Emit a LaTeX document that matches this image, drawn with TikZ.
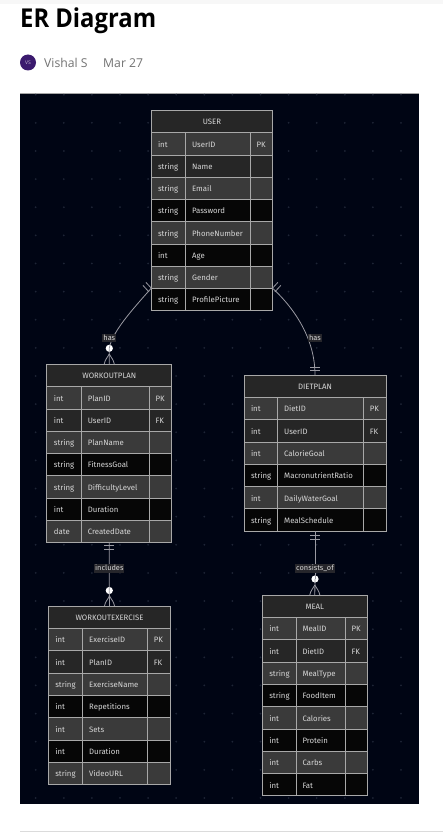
\documentclass[tikz,border=0pt]{standalone}
\usepackage{fontspec}
\usetikzlibrary{calc}
\setmainfont{Open Sans}
\newfontfamily\headfont[FakeStretch=0.915]{Open Sans}
\newfontfamily\erfont{Fira Sans}
\definecolor{bgdark}{HTML}{000514}
\definecolor{griddot}{HTML}{1E2536}
\definecolor{kA}{HTML}{3A3A3A}
\definecolor{kB}{HTML}{262626}
\definecolor{kC}{HTML}{060606}
\definecolor{edge}{HTML}{A8A8A8}
\definecolor{erink}{HTML}{D6D6D6}
\definecolor{lnk}{HTML}{9A9AA2}
\definecolor{lbl}{HTML}{26262B}
\definecolor{avatarpurple}{HTML}{3B1A6E}
\tikzset{
  cellbox/.style={draw=edge,line width=0.9pt,inner ysep=0pt,inner xsep=0pt,outer sep=0pt,anchor=north west,
    text=erink,font=\erfont\fontsize{7.8}{9}\selectfont,text height=8pt,text depth=1.5pt},
  titlebox/.style={cellbox,fill=kB,align=center},
  conn/.style={draw=lnk,line width=0.8pt},
  relabel/.style={fill=lbl,text=erink,font=\erfont\fontsize{7.4}{8}\selectfont,inner xsep=1pt,inner ysep=1pt,text height=5.5pt,text depth=1pt},
  reldot/.style={circle,fill=white,inner sep=0pt,minimum size=7.2pt},
}
% #1 name, #2-#5 column x, #6 top, #7 title bottom, #8 row height, #9 title; then row list
\newcommand{\ertable}[9]{%
  \def\tn{#1}\def\xa{#2}\def\xb{#3}\def\xc{#4}\def\xd{#5}\def\yt{#7}\def\rh{#8}%
  \pgfmathsetmacro\tw{#5-#2}\pgfmathsetmacro\th{#7-#6}%
  \node[titlebox,minimum width=\tw pt,minimum height=\th pt] (#1) at (#2,#6) {#9};%
  \ertablebody}
\newcommand{\ertablebody}[1]{%
  \foreach \f/\ty/\at/\ke [count=\i from 0] in {#1}{%
    \pgfmathsetmacro\yy{\yt+\i*\rh}%
    \pgfmathsetmacro\wa{\xb-\xa}\pgfmathsetmacro\wb{\xc-\xb}\pgfmathsetmacro\wc{\xd-\xc}%
    \node[cellbox,fill=\f,minimum width=\wa pt,minimum height=\rh pt,text width=\wa pt,align=left] (\tn-\i-t) at (\xa,\yy) {\hspace*{7pt}\mbox{\ty}};%
    \node[cellbox,fill=\f,minimum width=\wb pt,minimum height=\rh pt,text width=\wb pt,align=left] (\tn-\i-a) at (\xb,\yy) {\hspace*{6.5pt}\mbox{\at}};%
    \node[cellbox,fill=\f,minimum width=\wc pt,minimum height=\rh pt,text width=\wc pt,align=left] (\tn-\i-k) at (\xc,\yy) {\hspace*{6.5pt}\mbox{\ke}};%
  }}
\begin{document}
\begin{tikzpicture}[x=1pt,y=-1pt]
\useasboundingbox (0,0) rectangle (443,832);
\fill[white] (0,0) rectangle (443,832);
\fill[black!3] (0,0) rectangle (443,4);
\draw[black!14,line width=0.8pt] (20,831) -- (443,831);
% heading
\node[anchor=base west,inner sep=0pt,font=\headfont\bfseries\fontsize{26}{28}\selectfont,text=black] (title) at (20,28) {ER Diagram};
\node[circle,fill=avatarpurple,inner sep=0pt,minimum size=16pt,text=white!70!avatarpurple,font=\fontsize{5}{6}\selectfont] (avatar) at (28,62.5) {VS};
\node[anchor=base west,inner sep=0pt,font=\fontsize{12.2}{14}\selectfont,text=black!55] (author) at (44,67.5) {Vishal S};
\node[anchor=base west,inner sep=0pt,font=\fontsize{12.2}{14}\selectfont,text=black!55] (date) at (103,67.5) {Mar 27};
% canvas
\fill[bgdark] (20,94) rectangle (419,804);
\draw[black!35,line width=0.6pt] (20,93.8) -- (419,93.8);
\foreach \gx in {0,...,13}{\foreach \gy in {0,...,25}{
  \fill[griddot] (35.7+28.1*\gx,94.7+28.13*\gy) circle (1pt);
}}
% tables
\ertable{user}{151}{185.6}{250}{272.8}{110}{132.7}{22.25}{USER}{kA/int/UserID/PK,kB/string/Name/{},kA/string/Email/{},kC/string/Password/{},kA/string/PhoneNumber/{},kC/int/Age/{},kA/string/Gender/{},kC/string/ProfilePicture/{}}
\ertable{workoutplan}{46.9}{81.3}{149}{171.6}{364}{386.7}{22.25}{WORKOUTPLAN}{kA/int/PlanID/PK,kB/int/UserID/FK,kA/string/PlanName/{},kC/string/FitnessGoal/{},kA/string/DifficultyLevel/{},kC/int/Duration/{},kA/date/CreatedDate/{}}
\ertable{dietplan}{244}{277.7}{363.3}{386}{375}{397.4}{22.3}{DIETPLAN}{kA/int/DietID/PK,kB/int/UserID/FK,kA/int/CalorieGoal/{},kC/string/MacronutrientRatio/{},kA/int/DailyWaterGoal/{},kC/string/MealSchedule/{}}
\ertable{workoutexercise}{48.3}{82.7}{147.3}{170.7}{606}{628.3}{22.35}{WORKOUTEXERCISE}{kA/int/ExerciseID/PK,kB/int/PlanID/FK,kA/string/ExerciseName/{},kC/int/Repetitions/{},kA/int/Sets/{},kC/int/Duration/{},kA/string/VideoURL/{}}
\ertable{meal}{262.3}{296}{345}{367.3}{595}{617.3}{22.33}{MEAL}{kA/int/MealID/PK,kB/int/DietID/FK,kA/string/MealType/{},kC/string/FoodItem/{},kA/int/Calories/{},kC/int/Protein/{},kA/int/Carbs/{},kC/int/Fat/{}}
% relationship dots
\node[reldot] (dotA) at (109.3,348.3) {};
\node[reldot] (dotB) at (109.3,590.5) {};
\node[reldot] (dotC) at (315,579) {};
% connectors
\draw[conn] (user-6-t.south west) .. controls (132,310) and (112,332) .. (dotA.center);
\draw[conn] (dotA.center) -- (workoutplan.north);
\draw[conn] (user-6-k.south east) .. controls (296,310) and (315,340) .. (dietplan.north);
\draw[conn] (workoutplan-6-t.south -| workoutplan.north) -- (dotB.center);
\draw[conn] (dotB.center) -- (workoutexercise.north);
\draw[conn] (dietplan-5-a.south -| dietplan.north) -- (dotC.center);
\draw[conn] (dotC.center) -- (meal.north);
% bars: one-and-only-one
\draw[conn] ($(user-6-t.south west)+(-8,-3)$) -- ++(6,6.5);
\draw[conn] ($(user-6-t.south west)+(-5,-6)$) -- ++(6,6.5);
\draw[conn] ($(user-6-k.south east)+(8,-3)$) -- ++(-6,6.5);
\draw[conn] ($(user-6-k.south east)+(5,-6)$) -- ++(-6,6.5);
\draw[conn] ($(dietplan.north)+(-5,-8)$) -- ++(10,0);
\draw[conn] ($(dietplan.north)+(-5,-4.5)$) -- ++(10,0);
\draw[conn] ($(workoutplan-6-t.south -| workoutplan.north)+(-5,3.2)$) -- ++(10,0);
\draw[conn] ($(workoutplan-6-t.south -| workoutplan.north)+(-5,6.8)$) -- ++(10,0);
\draw[conn] ($(dietplan-5-a.south -| dietplan.north)+(-5,4)$) -- ++(10,0);
\draw[conn] ($(dietplan-5-a.south -| dietplan.north)+(-5,8)$) -- ++(10,0);
% crow's feet
\foreach \ta in {workoutplan,workoutexercise,meal}{
  \draw[conn] ($(\ta.north)+(-5,0)$) .. controls ($(\ta.north)+(-4.5,-4)$) and ($(\ta.north)+(-1.5,-7)$) .. ($(\ta.north)+(0,-10)$);
  \draw[conn] ($(\ta.north)+(5,0)$) .. controls ($(\ta.north)+(4.5,-4)$) and ($(\ta.north)+(1.5,-7)$) .. ($(\ta.north)+(0,-10)$);
}
% labels
\node[relabel] (lblA) at (109.3,338) {has};
\node[relabel] (lblB) at (315,338) {has};
\node[relabel] (lblC) at (109.3,568.7) {includes};
\node[relabel] (lblD) at (315,568.5) {consists\_of};
\end{tikzpicture}
\end{document}
